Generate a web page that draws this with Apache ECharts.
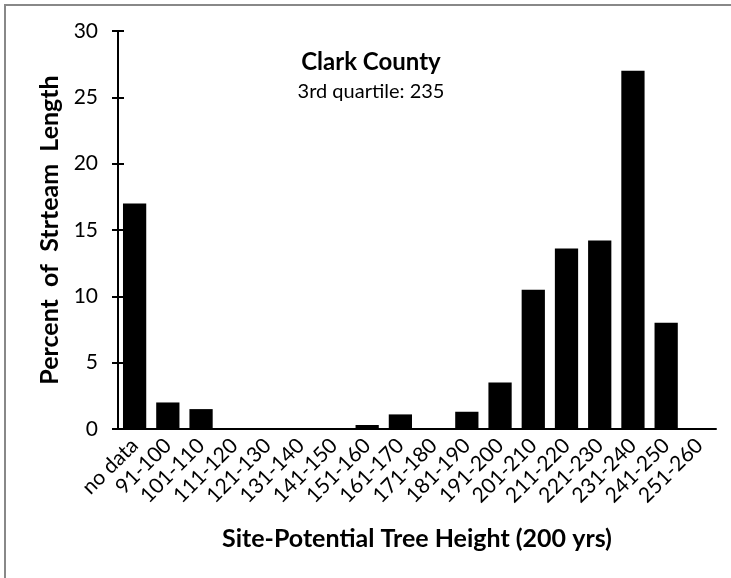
<!DOCTYPE html>
<html>
<head>
<meta charset="utf-8">
<script src="https://cdn.jsdelivr.net/npm/echarts@6/dist/echarts.min.js"></script>
<style>
  html, body { margin: 0; padding: 0; background: #fff; }
  #chart { width: 731px; height: 578px; }
</style>
</head>
<body>
<div id="chart"></div>
<script>
const categories = ['no data', '91-100', '101-110', '111-120', '121-130', '131-140', '141-150',
  '151-160', '161-170', '171-180', '181-190', '191-200', '201-210', '211-220', '221-230',
  '231-240', '241-250', '251-260']
const percents = [17.0, 2.0, 1.5, 0, 0, 0, 0, 0.3, 1.1, 0, 1.3, 3.5, 10.5, 13.6, 14.2, 27.0, 8.0, 0]
const yTicks = [0, 5, 10, 15, 20, 25, 30]

const font = 'Lato, "Open Sans", sans-serif'
const chart = echarts.init(document.getElementById('chart'))

chart.setOption({
  animation: false,
  backgroundColor: '#fff',
  title: {
    text: 'Clark County',
    subtext: '3rd quartile: 235',
    left: 366,
    top: 45,
    textAlign: 'center',
    itemGap: 8,
    textStyle: { fontFamily: font, fontWeight: 'bold', fontSize: 24, color: '#000' },
    subtextStyle: { fontFamily: font, fontSize: 20, color: '#000' }
  },
  graphic: [{
    type: 'rect',
    shape: { x: 5, y: 5, width: 740, height: 600 },
    style: { fill: 'none', stroke: '#888', lineWidth: 2 },
    silent: true
  }],
  grid: { left: 118, right: 15, top: 31, bottom: 149 },
  xAxis: {
    type: 'category',
    data: categories,
    name: 'Site-Potential Tree Height (200 yrs)',
    nameLocation: 'middle',
    nameGap: 97,
    nameTextStyle: { fontFamily: font, fontWeight: 'bold', fontSize: 25, color: '#000' },
    axisLine: { lineStyle: { color: '#000', width: 2 } },
    axisTick: { length: 7, lineStyle: { color: '#000', width: 2 } },
    axisLabel: { interval: 0, rotate: 45, margin: 13, fontFamily: font, fontSize: 21, color: '#000' }
  },
  yAxis: [{
    type: 'value',
    min: 0,
    max: 30,
    interval: 5,
    name: 'Percent  of  Strteam  Length',
    nameLocation: 'middle',
    nameGap: 56,
    nameTextStyle: { fontFamily: font, fontWeight: 'bold', fontSize: 25, color: '#000' },
    splitLine: { show: false },
    axisLine: { show: true, lineStyle: { color: '#000', width: 2 } },
    axisTick: { show: true, length: 6, lineStyle: { color: '#000', width: 2 } },
    axisLabel: {
      margin: 20, fontFamily: font, fontSize: 21, color: '#000',
      formatter: v => yTicks.includes(v) ? String(v) : ''
    }
  }, {
    type: 'value',
    position: 'left',
    min: 0,
    max: 30,
    interval: 5,
    splitLine: { show: false },
    axisLine: { show: false },
    axisLabel: { show: false },
    axisTick: { show: true, inside: true, length: 6, lineStyle: { color: '#000', width: 2 } }
  }],
  series: [{
    type: 'bar',
    data: percents,
    yAxisIndex: 0,
    barCategoryGap: '30%',
    itemStyle: { color: '#000' }
  }]
})
</script>
</body>
</html>
